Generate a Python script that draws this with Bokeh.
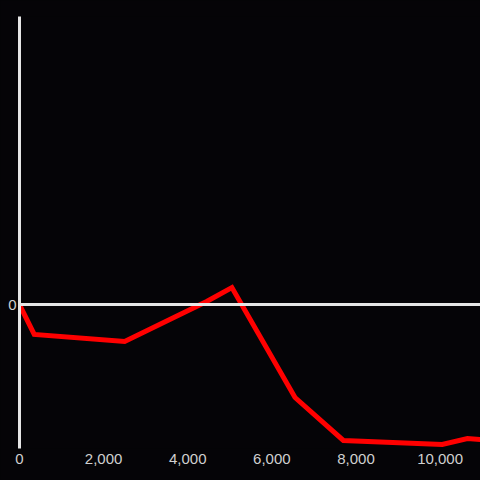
from bokeh.plotting import figure
from bokeh.models import Span, FixedTicker, NumeralTickFormatter, Range1d, GlobalInlineStyleSheet
from bokeh.embed import file_html
from bokeh.resources import INLINE

# data
x_values = [0, 350, 2500, 4450, 5050, 6550, 7700, 10050, 10650, 11000]
y_values = [0, -0.208, -0.257, 0.021, 0.118, -0.646, -0.944, -0.972, -0.931, -0.938]
x_ticks = [0, 2000, 4000, 6000, 8000, 10000]
y_ticks = [0]

BG = "#050407"
AX = "#e6e6e6"
LBL = "#d0d0d0"

p = figure(width=480, height=480, output_backend="svg", toolbar_location=None,
           x_range=Range1d(0, 10960), y_range=Range1d(-1, 2),
           min_border_left=19, min_border_right=0, min_border_top=16, min_border_bottom=32)
p.stylesheets = [GlobalInlineStyleSheet(css="html, body { background: %s; }" % BG)]
p.background_fill_color = BG
p.border_fill_color = BG
p.outline_line_color = None
p.grid.visible = False

p.add_layout(Span(location=0, dimension="width", line_color=AX, line_width=3))

p.line(x_values, y_values, line_color="#ff0000", line_width=5, line_join="miter")

p.xaxis.ticker = FixedTicker(ticks=x_ticks)
p.xaxis.formatter = NumeralTickFormatter(format="0,0")
p.xaxis.axis_line_color = None
p.xaxis.major_tick_line_color = None
p.xaxis.minor_tick_line_color = None
p.xaxis.major_tick_out = 0
p.xaxis.major_label_standoff = 5
p.xaxis.major_label_text_color = LBL
p.xaxis.major_label_text_font = "Liberation Sans"
p.xaxis.major_label_text_font_size = "15px"

p.yaxis.ticker = FixedTicker(ticks=y_ticks)
p.yaxis.axis_line_color = AX
p.yaxis.axis_line_width = 3
p.yaxis.major_tick_line_color = None
p.yaxis.minor_tick_line_color = None
p.yaxis.major_tick_out = 0
p.yaxis.major_label_standoff = 3
p.yaxis.major_label_text_color = LBL
p.yaxis.major_label_text_font = "Liberation Sans"
p.yaxis.major_label_text_font_size = "15px"

open("out.html", "w").write(file_html(p, INLINE))
